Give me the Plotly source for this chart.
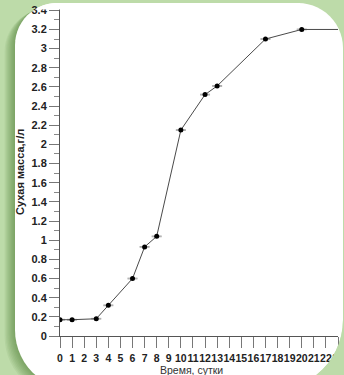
import math
import plotly.graph_objects as go

# ---- data ----
days = [0, 1, 3, 4, 6, 7, 8, 10, 12, 13, 17, 20, 24]
dry_mass = [0.17, 0.17, 0.18, 0.32, 0.60, 0.93, 1.04, 2.15, 2.52, 2.61, 3.10, 3.20, 3.20]
x_tick_values = list(range(0, 24))
x_tick_labels = [str(v) for v in x_tick_values]
y_title = "Сухая масса,г/л"
x_title = "Время, сутки"

# ---- layout geometry (pixels) ----
FW, FH = 344, 375
ML, MR, MT, MB = 60, 6, 8, 39
PW, PH = FW - ML - MR, FH - MT - MB
BOTTOM = FH - MB

def px(x):
    return (x - ML) / PW

def py(y):
    return (BOTTOM - y) / PH

def arc(cx, cy, r, a0, a1, n=14):
    pts = []
    for i in range(n + 1):
        a = math.radians(a0 + (a1 - a0) * i / n)
        pts.append((cx + r * math.cos(a), cy + r * math.sin(a)))
    return pts

def path_from(pts):
    s = "M %.5f %.5f" % (px(pts[0][0]), py(pts[0][1]))
    for x, y in pts[1:]:
        s += " L %.5f %.5f" % (px(x), py(y))
    return s + " Z"

def panel(x0, y0, x1, y1, rtl, rtr, rbr, rbl, dx=0, dy=0):
    pts = []
    pts += arc(x0 + rtl, y0 + rtl, rtl, 180, 270)
    pts += arc(x1 - rtr, y0 + rtr, rtr, 270, 360)
    pts += arc(x1 - rbr, y1 - rbr, rbr, 0, 90)
    pts += arc(x0 + rbl, y1 - rbl, rbl, 90, 180)
    return [(x + dx, y + dy) for x, y in pts]

PX0, PY0, PX1, PY1 = 15, 3, 343, 390
RTL, RTR, RBR, RBL = 42, 45, 70, 60

GREEN = "#bddba9"
shapes = []
for k in range(1, 9):
    shapes.append(dict(type="path", xref="paper", yref="paper", layer="below",
                       path=path_from(panel(PX0, PY0, PX1, PY1, RTL, RTR, RBR, RBL, dx=-k * 1.3, dy=k * 0.8)),
                       fillcolor="rgba(60,110,40,0.08)", line=dict(width=0)))
shapes.append(dict(type="path", xref="paper", yref="paper", layer="below",
                   path=path_from(panel(PX0, PY0, PX1, PY1, RTL, RTR, RBR, RBL)),
                   fillcolor="white", line=dict(width=0)))

# bottom-right corner patch above the tick labels
br = arc(PX1 - RBR, PY1 - RBR, RBR, 0, 90) + [(360, 400), (360, PY1 - RBR)]
shapes.append(dict(type="path", xref="paper", yref="paper", layer="above",
                   path=path_from(br), fillcolor=GREEN, line=dict(width=0)))

# white strip clipping the top of the chart image
cy = PY0 + RTL
cut = 9.5
a_start = 180 + math.degrees(math.asin((cy - cut) / RTL))
top = arc(PX0 + RTL, cy, RTL, a_start, 270, 6) + [(300, PY0), (300, cut)]
shapes.append(dict(type="path", xref="paper", yref="paper", layer="above",
                   path=path_from(top), fillcolor="white", line=dict(width=0)))

fig = go.Figure()
fig.add_trace(go.Scatter(
    x=days, y=dry_mass, mode="lines+markers",
    line=dict(color="#4a4a4a", width=1),
    marker=dict(color="black", size=5, symbol="circle"),
    error_y=dict(type="constant", value=0.004, width=5, thickness=1, color="#a8a8a8"),
    showlegend=False,
))

tick_font = dict(family="Liberation Sans, Arial", size=10.5, color="#222", weight="bold")

fig.update_layout(
    width=FW, height=FH, autosize=False,
    margin=dict(l=ML, r=MR, t=MT, b=MB, pad=0),
    paper_bgcolor=GREEN, plot_bgcolor="rgba(0,0,0,0)",
    shapes=shapes,
    xaxis=dict(range=[0, 23], tickmode="array", tickvals=x_tick_values, ticktext=x_tick_labels,
               tickangle=0, automargin=False,
               ticks="outside", ticklen=11, tickwidth=1, tickcolor="#777",
               showline=True, linecolor="#555", linewidth=1, showgrid=False, zeroline=False,
               tickfont=tick_font, ticklabelstandoff=1),
    yaxis=dict(range=[0, 3.424], tick0=0, dtick=0.2, automargin=False,
               ticks="outside", ticklen=10, tickwidth=1, tickcolor="#777",
               minor=dict(dtick=0.1, ticks="outside", ticklen=5, tickcolor="#888", showgrid=False),
               showline=True, linecolor="#555", linewidth=1, showgrid=False, zeroline=False,
               tickfont=dict(family="Liberation Sans, Arial", size=11, color="#222", weight="bold")),
    annotations=[
        dict(text=y_title, xref="paper", yref="paper", x=px(20), y=py(172), textangle=-90,
             showarrow=False, xanchor="center", yanchor="middle",
             font=dict(family="Liberation Sans, Arial", size=11, color="#222", weight="bold")),
        dict(text=x_title, xref="paper", yref="paper", x=px(191), y=py(369.5),
             showarrow=False, xanchor="center", yanchor="middle",
             font=dict(family="Liberation Sans, Arial", size=10.5, color="#333")),
    ],
)

fig.write_html(
    "out.html",
    config={"displayModeBar": False},
    post_script="document.body.style.margin='0';document.body.style.overflow='hidden';"
                "document.body.style.background='" + GREEN + "';",
)
